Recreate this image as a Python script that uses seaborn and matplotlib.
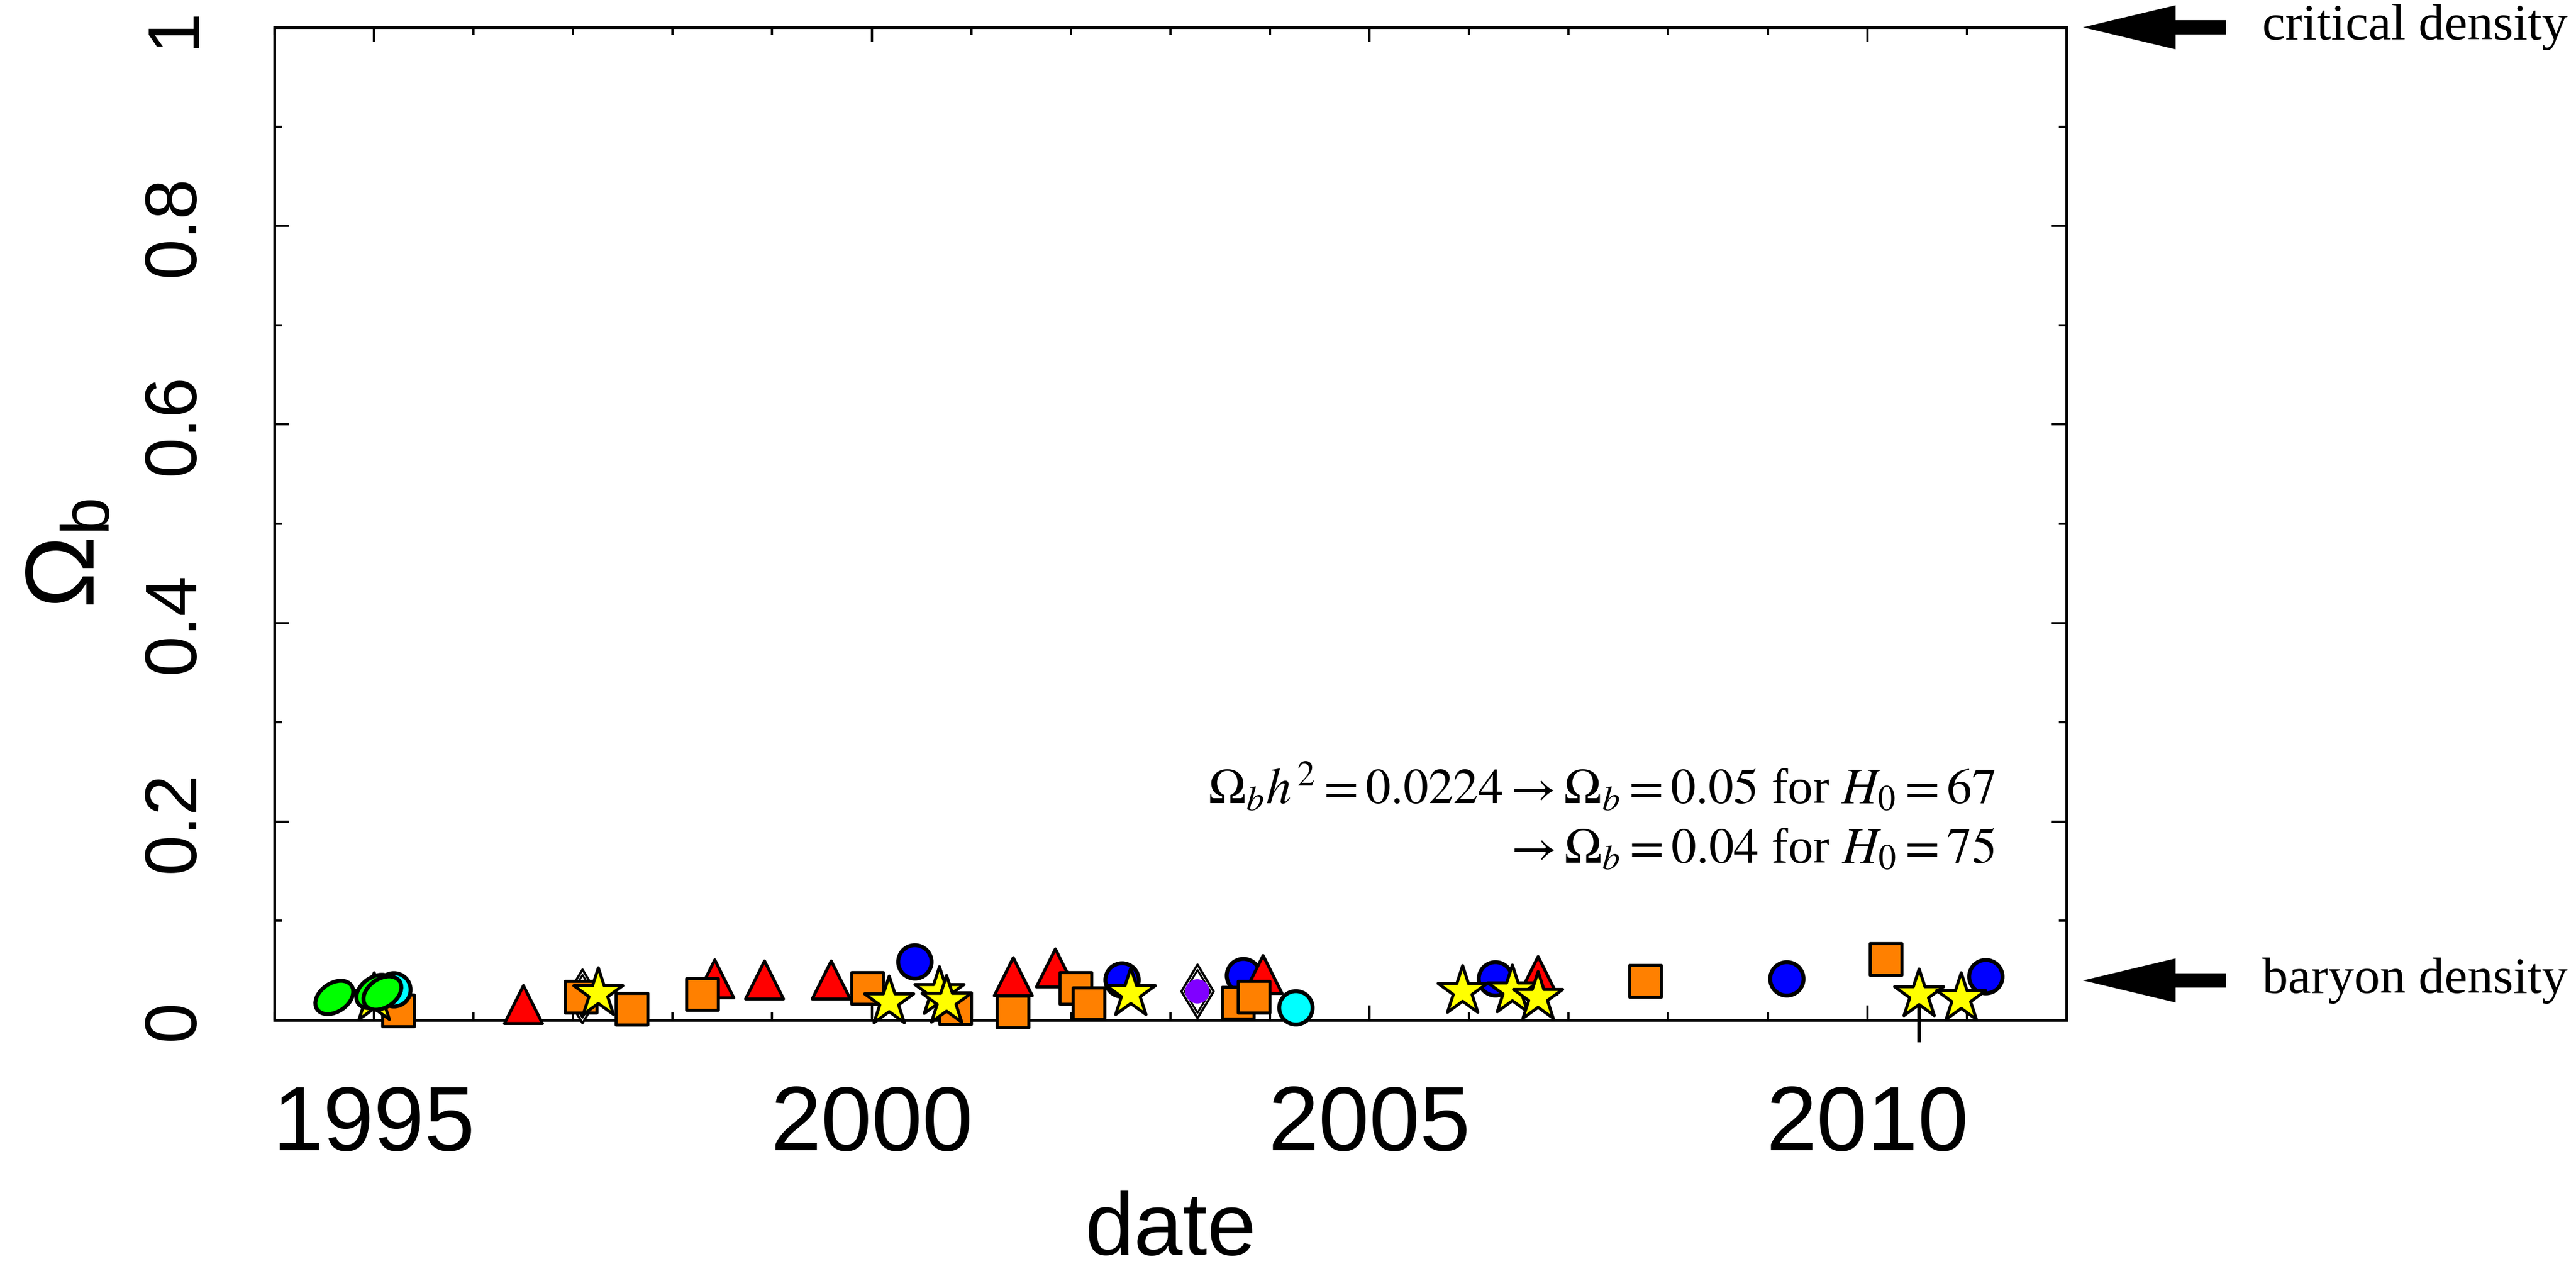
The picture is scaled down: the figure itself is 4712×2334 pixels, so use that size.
import numpy as np
import pandas as pd
import matplotlib
matplotlib.use("Agg")
import matplotlib.pyplot as plt
import seaborn as sns
from matplotlib.markers import MarkerStyle
from matplotlib.transforms import Affine2D
from matplotlib.ticker import MultipleLocator, FuncFormatter

# ---------------- data (year, Omega_b) ----------------
green_x = [1994.60, 1995.01, 1995.08]
green_y = [0.023, 0.029, 0.0275]

cyan_x = [1995.20, 2004.26]
cyan_y = [0.031, 0.0125]

orange_x = [1995.25, 1997.08, 1997.59, 1998.30, 1999.96, 2000.84, 2001.42,
            2002.05, 2002.18, 2003.68, 2003.84, 2007.77, 2010.19]
orange_y = [0.0096, 0.023, 0.011, 0.026, 0.032, 0.0116, 0.0084,
            0.032, 0.0165, 0.017, 0.023, 0.039, 0.061]

red_x = [1996.50, 1998.42, 1998.92, 1999.59, 2001.42, 2001.84, 2003.93, 2006.69]
red_y = [0.016, 0.042, 0.041, 0.041, 0.044, 0.053, 0.046, 0.045]

blue_x = [2000.43, 2002.51, 2003.73, 2006.26, 2009.19, 2011.19]
blue_y = [0.059, 0.041, 0.045, 0.042, 0.042, 0.044]

star_x = [1995.00, 1997.25, 2000.17, 2000.68, 2000.75, 2002.60,
          2005.93, 2006.43, 2006.69, 2010.52, 2010.94]
star_y = [0.022, 0.027, 0.019, 0.028, 0.0195, 0.027,
          0.029, 0.030, 0.023, 0.026, 0.022]

purple_x = [1997.09, 2003.27]
purple_y = [0.024, 0.029]

err_x = [2010.52]
err_y = [0.026]
err_lo = [0.048]
err_hi = [0.020]

critical_density = 1.0
baryon_density = 0.04

x_major = 5
x_minor = 1
y_major = 0.2
y_minor = 0.1
x_range = (1994, 2012)
y_range = (0, 1)

line1 = r"$\Omega_b h^2 = 0.0224 \rightarrow \Omega_b = 0.05$ for $H_0 = 67$"
line2 = r"$\rightarrow \Omega_b = 0.04$ for $H_0 = 75$"

# ---------------- style ----------------
sns.set_theme(style="white")
plt.rcParams["font.family"] = ["Liberation Sans", "DejaVu Sans"]
plt.rcParams["mathtext.fontset"] = "custom"
plt.rcParams["mathtext.rm"] = "Liberation Sans"
plt.rcParams["mathtext.it"] = "Liberation Sans:italic"
plt.rcParams["mathtext.bf"] = "Liberation Sans:bold"

fig = plt.figure(figsize=(23.56, 11.67), dpi=200)
ax = fig.add_axes([0.1065, 0.2005, 0.6957, 0.7781])

EW = 2.0
# blue circles
sns.scatterplot(x=blue_x, y=blue_y, ax=ax, marker="o", s=22**2, color="#0000ff",
                edgecolor="black", linewidth=2.6, clip_on=False, zorder=3)
# red triangles
sns.scatterplot(x=red_x, y=red_y, ax=ax, marker="^", s=25**2, color="#ff0000",
                edgecolor="black", linewidth=EW, clip_on=False, zorder=4)
# purple diamonds (outlined diamond with purple core)
sns.scatterplot(x=purple_x, y=purple_y, ax=ax, marker="d", s=25**2, color="white",
                edgecolor="black", linewidth=1.5, clip_on=False, zorder=5)
sns.scatterplot(x=purple_x, y=purple_y, ax=ax, marker="d", s=20**2, color="white",
                edgecolor="black", linewidth=1.3, clip_on=False, zorder=5.1)
sns.scatterplot(x=purple_x, y=purple_y, ax=ax, marker="o", s=16**2, color="#8000ff",
                edgecolor="none", linewidth=0, clip_on=False, zorder=5.2)
# orange squares
sns.scatterplot(x=orange_x, y=orange_y, ax=ax, marker="s", s=21**2, color="#ff8000",
                edgecolor="black", linewidth=EW, clip_on=False, zorder=6)
# cyan circles
sns.scatterplot(x=cyan_x, y=cyan_y, ax=ax, marker="o", s=22**2, color="#00ffff",
                edgecolor="black", linewidth=2.6, clip_on=False, zorder=7)
# error bar
ax.errorbar(err_x, err_y, yerr=[err_lo, err_hi], fmt="none", ecolor="black",
            elinewidth=2.4, capsize=0, clip_on=False, zorder=7.5)
# yellow stars
sns.scatterplot(x=star_x, y=star_y, ax=ax, marker="*", s=34**2, color="#ffff00",
                edgecolor="black", linewidth=EW, clip_on=False, zorder=8)
# green tilted ellipses
ell = MarkerStyle("o", transform=Affine2D().scale(1.25, 0.85).rotate_deg(35))
sns.scatterplot(x=green_x, y=green_y, ax=ax, marker=ell, s=22**2, color="#00ff00",
                edgecolor="black", linewidth=2.6, clip_on=False, zorder=9)

ax.set_xlim(*x_range)
ax.set_ylim(*y_range)

for sp in ax.spines.values():
    sp.set_linewidth(1.8)
    sp.set_color("black")
    sp.set_visible(True)

ax.xaxis.set_major_locator(MultipleLocator(x_major))
ax.xaxis.set_minor_locator(MultipleLocator(x_minor))
ax.yaxis.set_major_locator(MultipleLocator(y_major))
ax.yaxis.set_minor_locator(MultipleLocator(y_minor))
ax.xaxis.set_major_formatter(FuncFormatter(lambda v, p: f"{int(round(v))}"))
ax.yaxis.set_major_formatter(FuncFormatter(lambda v, p: f"{v:g}"))

ax.tick_params(which="both", direction="in", top=True, right=True,
               bottom=True, left=True, color="black", width=1.5)
ax.tick_params(which="major", length=9.7)
ax.tick_params(which="minor", length=5)
ax.tick_params(axis="x", labelsize=60, pad=42, labelcolor="black")
ax.tick_params(axis="y", labelsize=48, pad=43, labelrotation=90, labelcolor="black")

ax.set_xlabel("date", fontsize=58, color="black")
ax.xaxis.label.set_va("baseline")
ax.xaxis.set_label_coords(0.5, -0.236)
ax.set_ylabel(r"$\Omega_\mathrm{b}$", fontsize=64, color="black")
ax.yaxis.label.set_va("center")
ax.yaxis.set_label_coords(-0.1147, 0.47)

# annotation text
ytr = ax.get_yaxis_transform()
ax.text(0.960, 0.234, line1, transform=ytr, ha="right", va="center",
        fontsize=33, family="Liberation Serif", math_fontfamily="stix", color="black")
ax.text(0.960, 0.171, line2, transform=ytr, ha="right", va="center",
        fontsize=33, family="Liberation Serif", math_fontfamily="stix", color="black")

# arrows on right
arrow_props = dict(arrowstyle="simple,head_length=6.1,head_width=2.9,tail_width=0.94",
                   mutation_scale=10, fc="black", ec="black", lw=0,
                   shrinkA=0, shrinkB=0)
for yv, lab in [(critical_density, "critical density"), (baryon_density, "baryon density")]:
    ax.annotate("", xy=(1.0092, yv), xycoords=ytr, xytext=(1.089, yv), textcoords=ytr,
                arrowprops=arrow_props, annotation_clip=False)
    ax.text(1.1092, yv, lab, transform=ytr, ha="left", va="center", fontsize=34,
            family="Liberation Serif", color="black", clip_on=False)

fig.canvas.draw()
for lab in ax.get_yticklabels():
    lab.set_va("center")

fig.savefig("out.png", dpi=200, facecolor="white")
